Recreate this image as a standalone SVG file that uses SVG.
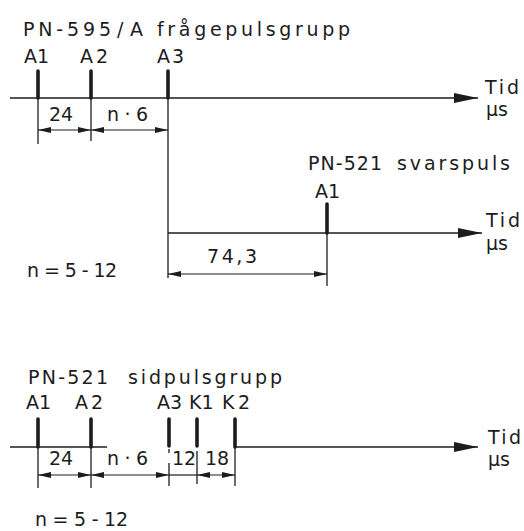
<svg xmlns="http://www.w3.org/2000/svg" width="524" height="531" viewBox="0 0 524 531">
<style>
text{font-family:"DejaVu Sans","Liberation Sans",sans-serif;font-size:19px;fill:#1c1c1c}
.axis{stroke:#1c1c1c;stroke-width:1.6;fill:none}
.pulse{stroke:#1c1c1c;stroke-width:3.6;stroke-linecap:round;fill:none}
.ext{stroke:#1c1c1c;stroke-width:1.3;fill:none}
.dim{stroke:#1c1c1c;stroke-width:1.2;fill:none}
.dima{stroke:#1c1c1c;stroke-width:1.2;fill:none;marker-start:url(#da);marker-end:url(#da)}
.ax{marker-end:url(#aa)}
</style>
<defs>
<marker id="da" markerUnits="userSpaceOnUse" markerWidth="14" markerHeight="8" refX="13" refY="3.5" orient="auto-start-reverse"><path d="M0,0.5 L13,3.5 L0,6.5 z" fill="#1c1c1c"/></marker>
<marker id="aa" markerUnits="userSpaceOnUse" markerWidth="26" markerHeight="12" refX="24" refY="5.5" orient="auto"><path d="M0,0.5 L24,5.5 L0,10.5 z" fill="#1c1c1c"/></marker>
</defs>
<rect width="524" height="531" fill="#fff"/>

<g id="group-fragepuls">
<text y="36"><tspan x="23" textLength="88" lengthAdjust="spacing">PN-595</tspan> <tspan x="117" textLength="26" lengthAdjust="spacing">/A</tspan> <tspan x="157" textLength="193" lengthAdjust="spacing">frågepulsgrupp</tspan></text>
<g id="axis-top"><line class="axis ax" x1="10" y1="98" x2="478" y2="98"/><text x="485" y="94" textLength="34" lengthAdjust="spacing">Tid</text><text x="486" y="116">µs</text></g>
<g id="pulse-top-A1"><line class="pulse" x1="38" y1="71" x2="38" y2="98"/><text x="24" y="63">A1</text></g>
<g id="pulse-top-A2"><line class="pulse" x1="91" y1="71" x2="91" y2="98"/><text x="80" y="63" textLength="28" lengthAdjust="spacing">A2</text></g>
<g id="pulse-top-A3"><line class="pulse" x1="168" y1="71" x2="168" y2="98"/><text x="157" y="63" textLength="27" lengthAdjust="spacing">A3</text></g>
</g>

<g id="group-svarspuls">
<text y="170"><tspan x="308" textLength="74" lengthAdjust="spacing">PN-521</tspan> <tspan x="397" textLength="113" lengthAdjust="spacing">svarspuls</tspan></text>
<g id="axis-mid"><line class="axis ax" x1="168" y1="233" x2="482" y2="233"/><text x="486" y="227" textLength="34" lengthAdjust="spacing">Tid</text><text x="486" y="250">µs</text></g>
<g id="pulse-mid-A1"><line class="pulse" x1="327" y1="204" x2="327" y2="233"/><text x="315" y="198">A1</text></g>
<text x="27" y="277" textLength="90" lengthAdjust="spacing">n = 5 - 12</text>
</g>

<g id="group-sidpuls">
<text y="384"><tspan x="28" textLength="80" lengthAdjust="spacing">PN-521</tspan> <tspan x="128" textLength="154" lengthAdjust="spacing">sidpulsgrupp</tspan></text>
<g id="axis-bottom"><line class="axis" x1="10" y1="447" x2="107" y2="447"/><line class="axis ax" x1="235" y1="447" x2="478" y2="447"/><text x="488" y="444" textLength="33" lengthAdjust="spacing">Tid</text><text x="488" y="466">µs</text></g>
<g id="pulse-bot-A1"><line class="pulse" x1="38" y1="419" x2="38" y2="447"/><text x="26" y="409">A1</text></g>
<g id="pulse-bot-A2"><line class="pulse" x1="91" y1="419" x2="91" y2="447"/><text x="75" y="409" textLength="28" lengthAdjust="spacing">A2</text></g>
<g id="pulse-bot-A3"><line class="pulse" x1="169" y1="419" x2="169" y2="446"/><text x="157" y="409">A3</text></g>
<g id="pulse-bot-K1"><line class="pulse" x1="197" y1="419" x2="197" y2="446"/><text x="189" y="409">K1</text></g>
<g id="pulse-bot-K2"><line class="pulse" x1="235" y1="419" x2="235" y2="447"/><text x="222" y="409" textLength="28" lengthAdjust="spacing">K2</text></g>
<text x="35" y="526" textLength="93" lengthAdjust="spacing">n = 5 - 12</text>
</g>

<g id="connectors">
<line class="ext" x1="38" y1="98" x2="38" y2="144"/>
<line class="ext" x1="91" y1="98" x2="91" y2="141"/>
<line class="ext" x1="168" y1="98" x2="168" y2="278"/>
<line class="dima" x1="38" y1="130" x2="91" y2="130"/>
<line class="dima" x1="91" y1="130" x2="168" y2="130"/>
<text x="49" y="121">24</text>
<text x="107" y="121" textLength="41" lengthAdjust="spacing">n · 6</text>

<line class="ext" x1="327" y1="233" x2="327" y2="286"/>
<line class="dima" x1="168" y1="274" x2="327" y2="274"/>
<text x="207" y="263" textLength="50" lengthAdjust="spacing">74,3</text>

<line class="ext" x1="38" y1="447" x2="38" y2="488"/>
<line class="ext" x1="91" y1="447" x2="91" y2="488"/>
<line class="ext" x1="169" y1="449" x2="169" y2="453"/>
<line class="ext" x1="169" y1="463" x2="169" y2="486"/>
<line class="ext" x1="197" y1="451" x2="197" y2="484"/>
<line class="ext" x1="235" y1="447" x2="235" y2="486"/>
<line class="dima" x1="38" y1="475" x2="91" y2="475"/>
<line class="dima" x1="91" y1="475" x2="169" y2="475"/>
<line class="dim" x1="169" y1="475" x2="197" y2="475"/>
<line class="dima" x1="197" y1="475" x2="235" y2="475"/>
<text x="49" y="465">24</text>
<text x="107" y="465" textLength="41" lengthAdjust="spacing">n · 6</text>
<text x="172" y="465" font-size="18">12</text>
<text x="205" y="465" font-size="18">18</text>
</g>
</svg>
